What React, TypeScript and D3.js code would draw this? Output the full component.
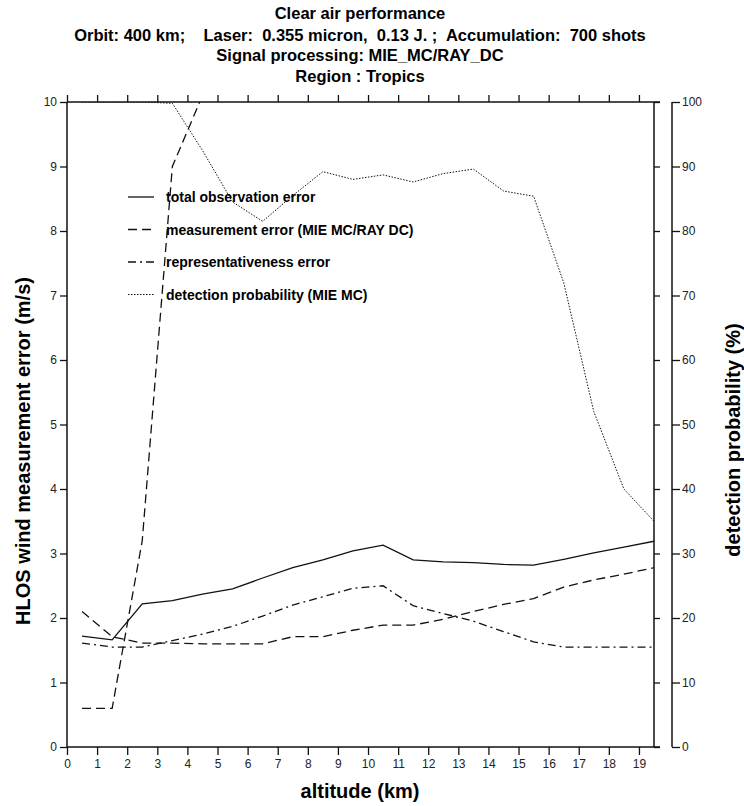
import React, { useEffect, useRef } from "react";
import * as d3 from "d3";

// altitude grid (km) and the curves
const altitude = [0.5, 1.5, 2.5, 3.5, 4.5, 5.5, 6.5, 7.5, 8.5, 9.5, 10.5, 11.5, 12.5, 13.5, 14.5, 15.5, 16.5, 17.5, 18.5, 19.5];
const totalError = [1.72, 1.66, 2.22, 2.27, 2.37, 2.45, 2.62, 2.78, 2.9, 3.04, 3.13, 2.9, 2.87, 2.86, 2.83, 2.82, 2.91, 3.01, 3.1, 3.19];
const rayleighError = [2.1, 1.71, 1.61, 1.61, 1.6, 1.6, 1.6, 1.71, 1.71, 1.81, 1.89, 1.89, 1.98, 2.1, 2.21, 2.3, 2.48, 2.59, 2.68, 2.78];
// Mie measurement error only on the lowest levels, goes off the top of the plot
const mieAltitude = [0.5, 1.5, 2.5, 3.5, 4.5];
const mieError = [0.6, 0.6, 3.2, 9.0, 10.1];
const reprError = [1.61, 1.55, 1.55, 1.65, 1.75, 1.87, 2.03, 2.2, 2.33, 2.46, 2.5, 2.19, 2.07, 1.95, 1.79, 1.63, 1.55, 1.55, 1.55, 1.55];
const detectionProb = [100, 100, 100, 99.8, 92.5, 84.5, 81.5, 85.5, 89.2, 88.0, 88.7, 87.6, 88.9, 89.6, 86.2, 85.4, 72, 52, 40, 35];

const altitudeTicks = [0, 1, 2, 3, 4, 5, 6, 7, 8, 9, 10, 11, 12, 13, 14, 15, 16, 17, 18, 19];
const errorTicks = [0, 1, 2, 3, 4, 5, 6, 7, 8, 9, 10];
const probTicks = [0, 10, 20, 30, 40, 50, 60, 70, 80, 90, 100];

const titleLines = [
    "Clear air performance",
    "Orbit: 400 km;\u00a0\u00a0\u00a0 Laser:\u00a0 0.355 micron,\u00a0 0.13 J. ;\u00a0 Accumulation:\u00a0 700 shots",
    "Signal processing: MIE_MC/RAY_DC",
    "Region : Tropics",
];
const legendLabels = [
    "total observation error",
    "measurement error (MIE MC/RAY DC)",
    "representativeness error",
    "detection probability (MIE MC)",
];

const W = 744;
const H = 806;
const FONT = "'Liberation Sans', Arial, Helvetica, sans-serif";

const App = () => {
    const svgRef = useRef<SVGSVGElement>(null);

    useEffect(() => {
        const svg = d3.select(svgRef.current);
        svg.selectAll("*").remove();

        const left = 67, right = 654, top = 102, bottom = 747;
        const x = d3.scaleLinear().domain([0, 19.5]).range([left, right]);
        const yL = d3.scaleLinear().domain([0, 10]).range([bottom, top]);
        const yR = d3.scaleLinear().domain([0, 100]).range([bottom, top]);

        // title
        const titleY = [19, 41, 61, 82];
        svg.append("g")
            .selectAll("text")
            .data(titleLines)
            .join("text")
            .attr("x", 360)
            .attr("y", (_, i) => titleY[i])
            .attr("text-anchor", "middle")
            .attr("font-family", FONT)
            .attr("font-weight", "bold")
            .attr("font-size", 16.5)
            .text((d) => d);

        // clip for the curves
        svg.append("clipPath")
            .attr("id", "plotClip")
            .append("rect")
            .attr("x", left)
            .attr("y", top)
            .attr("width", right - left)
            .attr("height", bottom - top);

        const lines = svg.append("g").attr("clip-path", "url(#plotClip)");
        const lineL = d3.line<number>().x((_, i) => x(altitude[i])).y((d) => yL(d));
        const lineR = d3.line<number>().x((_, i) => x(altitude[i])).y((d) => yR(d));
        const lineMie = d3.line<number>().x((_, i) => x(mieAltitude[i])).y((d) => yL(d));

        const addPath = (d: string | null, dash: string | null, w: number) =>
            lines.append("path")
                .attr("d", d)
                .attr("fill", "none")
                .attr("stroke", "#111")
                .attr("stroke-width", w)
                .attr("stroke-dasharray", dash);

        addPath(lineL(totalError), null, 1.3);
        addPath(lineL(rayleighError), "9,5", 1.3);
        addPath(lineMie(mieError), "9,5", 1.3);
        addPath(lineL(reprError), "8,4,2,4", 1.3);
        addPath(lineR(detectionProb), "1.5,1.5", 1);

        // frame
        const frame = svg.append("g").attr("stroke", "#111").attr("stroke-width", 1.5);
        frame.append("line").attr("x1", left).attr("x2", left).attr("y1", top).attr("y2", bottom);
        frame.append("line").attr("x1", right).attr("x2", right).attr("y1", top).attr("y2", bottom);
        frame.append("line").attr("x1", left).attr("x2", right + 6).attr("y1", top).attr("y2", top);
        frame.append("line").attr("x1", left).attr("x2", right + 6).attr("y1", bottom).attr("y2", bottom);

        const tickStyle = (g: d3.Selection<SVGGElement, unknown, null, undefined>) => {
            g.select(".domain").remove();
            g.selectAll("line").attr("stroke", "#111").attr("stroke-width", 1.3);
            g.selectAll("text")
                .attr("font-family", FONT)
                .attr("font-size", 12)
                .attr("fill", "#222");
        };

        // bottom axis
        svg.append("g")
            .attr("transform", `translate(0,${bottom})`)
            .call(d3.axisBottom(x).tickValues(altitudeTicks).tickSize(8).tickPadding(4).tickFormat(d3.format("d")))
            .call(tickStyle);

        // top ticks
        svg.append("g")
            .attr("transform", `translate(0,${top})`)
            .call(d3.axisTop(x).tickValues(altitudeTicks).tickSize(7).tickFormat(() => ""))
            .call(tickStyle);

        // left axis
        svg.append("g")
            .attr("transform", `translate(${left},0)`)
            .call(d3.axisLeft(yL).tickValues(errorTicks).tickSize(7).tickPadding(3).tickFormat(d3.format("d")))
            .call(tickStyle);

        // ticks on right frame edge
        svg.append("g")
            .attr("transform", `translate(${right},0)`)
            .call(d3.axisRight(yL).tickValues(errorTicks).tickSize(6).tickFormat(() => ""))
            .call(tickStyle);

        // right probability axis
        const rAxis = svg.append("g")
            .attr("transform", `translate(672,0)`)
            .call(d3.axisRight(yR).tickValues(probTicks).tickSize(8).tickPadding(2).tickFormat(d3.format("d")))
            .call(tickStyle);
        rAxis.append("line")
            .attr("x1", 0).attr("x2", 0).attr("y1", top).attr("y2", bottom)
            .attr("stroke", "#111").attr("stroke-width", 1.5);

        // axis titles
        const axisTitle = (tr: string, label: string) =>
            svg.append("text")
                .attr("transform", tr)
                .attr("text-anchor", "middle")
                .attr("font-family", FONT)
                .attr("font-weight", "bold")
                .attr("font-size", 20)
                .text(label);
        axisTitle("translate(360,798)", "altitude (km)");
        axisTitle("translate(30,451) rotate(-90)", "HLOS wind measurement error (m/s)");
        axisTitle("translate(740,440) rotate(-90)", "detection probability (%)");

        // legend
        const legendDash = [null, "9,5", "8,4,2,4", "1.5,1.5"];
        const rows = svg.append("g")
            .selectAll("g")
            .data(legendLabels)
            .join("g")
            .attr("transform", (_, i) => `translate(128,${197 + i * 32.5})`);
        rows.append("line")
            .attr("x1", 0).attr("x2", 26)
            .attr("stroke", "#111")
            .attr("stroke-width", (_, i) => (i === 3 ? 1 : 1.3))
            .attr("stroke-dasharray", (_, i) => legendDash[i]);
        rows.append("text")
            .attr("x", 38)
            .attr("y", 5)
            .attr("font-family", FONT)
            .attr("font-weight", "bold")
            .attr("font-size", 14)
            .text((d) => d);
    }, []);

    return (
        <svg
            ref={svgRef}
            width={W}
            height={H}
            style={{ position: "absolute", left: 0, top: 0, background: "#fff" }}
        />
    );
};

export default App;
